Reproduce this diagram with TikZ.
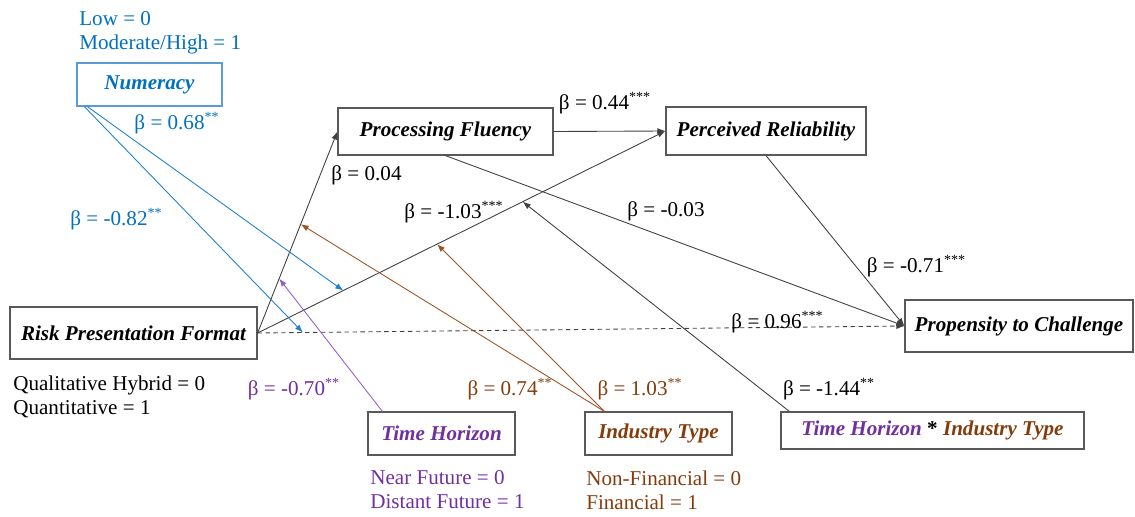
\documentclass[tikz,border=0pt]{standalone}
\usepackage{fontspec}
\setmainfont{Liberation Serif}
\usepackage{xcolor}
\usepackage{tikz}
\usetikzlibrary{arrows.meta}

\definecolor{numblue}{HTML}{0070C0}
\definecolor{numframe}{HTML}{5B9BD5}
\definecolor{numline}{HTML}{1F80CF}
\definecolor{thpurple}{HTML}{7030A0}
\definecolor{thline}{HTML}{9460C8}
\definecolor{itbrown}{HTML}{843C0C}
\definecolor{itline}{HTML}{9C5426}

\begin{document}
\begin{tikzpicture}[>={Latex[length=1.6mm,width=1.2mm]},
  varbox/.style={draw=black!65, line width=0.7pt, inner sep=0pt,
    font=\fontsize{12}{14.5}\selectfont\bfseries\itshape},
  coef/.style={inner sep=0pt, font=\fontsize{12}{14}\selectfont},
  note/.style={inner sep=0pt, anchor=west, align=left, font=\fontsize{12}{13.7}\selectfont},
  link/.style={->, line width=0.5pt, black!75}]
  \useasboundingbox (0,0) rectangle (22.7,10.32);

  % variables
  \node[varbox, draw=numframe, text=numblue, minimum width=2.9cm, minimum height=0.86cm] (num) at (2.99,8.63) {Numeracy};
  \node[varbox, minimum width=4.3cm, minimum height=0.94cm] (pf) at (8.91,7.69) {Processing Fluency};
  \node[varbox, minimum width=4.0cm, minimum height=0.96cm] (pr) at (15.32,7.70) {Perceived Reliability};
  \node[varbox, minimum width=4.94cm, minimum height=1.04cm] (rpf) at (2.67,3.66) {Risk Presentation Format};
  \node[varbox, minimum width=4.56cm, minimum height=1.04cm] (ptc) at (20.38,3.80) {Propensity to Challenge};
  \node[varbox, text=thpurple, minimum width=2.94cm, minimum height=0.86cm] (th) at (8.83,1.65) {Time Horizon};
  \node[varbox, text=itbrown, minimum width=2.94cm, minimum height=0.86cm] (it) at (13.17,1.65) {Industry Type};
  \node[varbox, minimum width=6.06cm, minimum height=0.74cm] (thit) at (18.65,1.71)
    {\textcolor{thpurple}{Time Horizon} \textup{*} \textcolor{itbrown}{Industry Type}};

  % codings
  \node[note, text=numblue] (numcode) at (1.58,9.66) {Low = 0\\Moderate/High = 1};
  \node[note] (rpfcode) at (0.26,2.38) {Qualitative Hybrid = 0\\Quantitative = 1};
  \node[note, text=thpurple] (thcode) at (7.40,0.52) {Near Future = 0\\Distant Future = 1};
  \node[note, text=itbrown] (itcode) at (11.72,0.52) {Non-Financial = 0\\Financial = 1};

  % paths
  \draw[link] (rpf.east) -- (pf.west) coordinate[pos=0.27] (onpfa) coordinate[pos=0.54] (onpfb);
  \draw[link] (rpf.east) -- (pr.west) coordinate[pos=0.21] (onpra) coordinate[pos=0.44] (onprb) coordinate[pos=0.65] (onprc);
  \draw[link] (pf.east) -- (pr.west);
  \draw[link] (pf.south) -- (ptc.west);
  \draw[link] (pr.south) -- (ptc.west);
  \draw[link, dash pattern=on 2.5pt off 2pt] (rpf.east) -- (ptc.west) coordinate[pos=0.07] (ondir);

  % moderations
  \draw[link, numline] ([xshift=0.22cm]num.south west) -- (onpra);
  \draw[link, numline] ([xshift=0.16cm]num.south west) -- (ondir);
  \draw[link, thline] ([xshift=0.3cm]th.north west) -- (onpfa);
  \draw[link, itline] ([xshift=0.4cm]it.north west) -- (onpfb);
  \draw[link, itline] ([xshift=0.4cm]it.north west) -- (onprb);
  \draw[link] ([xshift=0.18cm]thit.north west) -- (onprc);

  % coefficients
  \node[coef, text=numblue] (b1) at (3.54,7.86) {β = 0.68\textsuperscript{**}};
  \node[coef, text=numblue] (b2) at (2.33,5.94) {β = -0.82\textsuperscript{**}};
  \node[coef] (b3) at (7.33,6.82) {β = 0.04};
  \node[coef] (b4) at (12.10,8.26) {β = 0.44\textsuperscript{***}};
  \node[coef] (b5) at (9.08,6.08) {β = -1.03\textsuperscript{***}};
  \node[coef] (b6) at (13.32,6.10) {β = -0.03};
  \node[coef] (b7) at (18.33,5.00) {β = -0.71\textsuperscript{***}};
  \node[coef] (b8) at (15.55,3.88) {β = 0.96\textsuperscript{***}};
  \node[coef, text=thpurple] (b9) at (5.88,2.54) {β = -0.70\textsuperscript{**}};
  \node[coef, text=itbrown] (b10) at (10.20,2.54) {β = 0.74\textsuperscript{**}};
  \node[coef, text=itbrown] (b11) at (12.80,2.54) {β = 1.03\textsuperscript{**}};
  \node[coef] (b12) at (16.58,2.54) {β = -1.44\textsuperscript{**}};
\end{tikzpicture}
\end{document}
